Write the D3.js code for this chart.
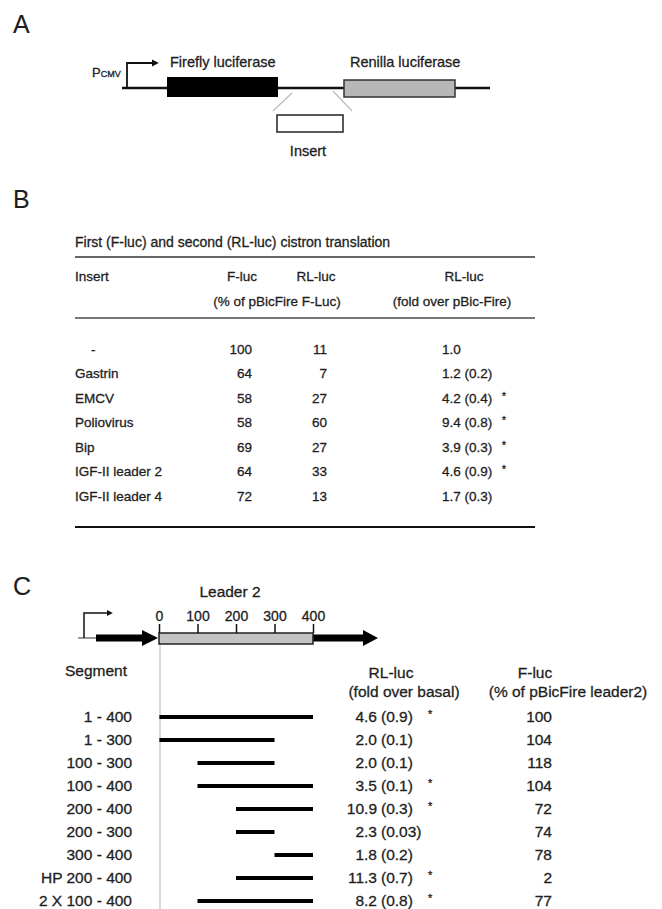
<!DOCTYPE html>
<html lang="en">
<head>
  <script src="https://d3js.org/d3.v7.min.js"></script>
  <style>
    body { margin: 0; background: #fff; }
    text { font-family: "Liberation Sans", Arial, sans-serif; fill: #1e1e1e; stroke: #1e1e1e; stroke-width: 0.3px; }
  </style>
</head>
<body>
<script>
  // panel B table
  var inserts = ["-", "Gastrin", "EMCV", "Poliovirus", "Bip", "IGF-II leader 2", "IGF-II leader 4"];
  var flucPct = [100, 64, 58, 58, 69, 64, 72];
  var rlucPct = [11, 7, 27, 60, 27, 33, 13];
  var rlFold = ["1.0", "1.2", "4.2", "9.4", "3.9", "4.6", "1.7"];
  var rlFoldSD = ["", "0.2", "0.4", "0.8", "0.3", "0.9", "0.3"];
  var rlSig = [0, 0, 1, 1, 1, 1, 0];

  // panel C deletion map
  var segments = ["1 - 400", "1 - 300", "100 - 300", "100 - 400", "200 - 400", "200 - 300", "300 - 400", "HP 200 - 400", "2 X 100 - 400"];
  var segStart = [1, 1, 100, 100, 200, 200, 300, 200, 100];
  var segEnd = [400, 300, 300, 400, 400, 300, 400, 400, 400];
  var foldBasal = ["4.6", "2.0", "2.0", "3.5", "10.9", "2.3", "1.8", "11.3", "8.2"];
  var foldSD = ["0.9", "0.1", "0.1", "0.1", "0.3", "0.03", "0.2", "0.7", "0.8"];
  var foldSig = [1, 0, 0, 1, 1, 0, 0, 1, 1];
  var flucLeader = [100, 104, 118, 104, 72, 74, 78, 2, 77];
  var leaderTicks = [0, 100, 200, 300, 400];

  var width = 662, height = 909;

  var svg = d3.select("body").append("svg")
    .attr("width", width)
    .attr("height", height);

  var defs = svg.append("defs");
  defs.append("marker")
    .attr("id", "head")
    .attr("viewBox", "0 0 10 10")
    .attr("refX", 2).attr("refY", 5)
    .attr("markerWidth", 4).attr("markerHeight", 4)
    .attr("orient", "auto")
    .append("path").attr("d", "M0,0 L10,5 L0,10 z").attr("fill", "#111");

  // panel letters
  svg.selectAll("text.panel")
    .data([["A", 33], ["B", 208], ["C", 595]])
    .enter().append("text")
    .attr("class", "panel")
    .attr("x", 13).attr("y", function(d) { return d[1]; })
    .attr("font-size", "25px")
    .style("stroke-width", "0.1px")
    .text(function(d) { return d[0]; });

  // ---------- A ----------
  var a = svg.append("g");
  a.append("line").attr("x1", 122).attr("x2", 490).attr("y1", 88).attr("y2", 88)
    .attr("stroke", "#111").attr("stroke-width", 2.5);
  a.append("path").attr("d", "M127,88 V63 H153")
    .attr("fill", "none").attr("stroke", "#111").attr("stroke-width", 1.8)
    .attr("marker-end", "url(#head)");
  a.append("text").attr("x", 92).attr("y", 77).attr("font-size", "13px")
    .html('P<tspan font-size="9px">CMV</tspan>');
  a.append("rect").attr("x", 167).attr("y", 77).attr("width", 111).attr("height", 20)
    .attr("fill", "#000");
  a.append("rect").attr("x", 344).attr("y", 80).attr("width", 111).attr("height", 17)
    .attr("fill", "#b7b7b7").attr("stroke", "#333").attr("stroke-width", 1.5);
  a.append("line").attr("x1", 292).attr("y1", 93).attr("x2", 273).attr("y2", 111)
    .attr("stroke", "#bbb").attr("stroke-width", 1.2);
  a.append("line").attr("x1", 333).attr("y1", 91).attr("x2", 352).attr("y2", 111)
    .attr("stroke", "#bbb").attr("stroke-width", 1.2);
  a.append("rect").attr("x", 277).attr("y", 115).attr("width", 66).attr("height", 17)
    .attr("fill", "#fff").attr("stroke", "#222").attr("stroke-width", 1.5);
  a.append("text").attr("x", 170).attr("y", 67).attr("font-size", "14.5px").text("Firefly luciferase");
  a.append("text").attr("x", 350).attr("y", 67).attr("font-size", "14.5px").text("Renilla luciferase");
  a.append("text").attr("x", 308).attr("y", 156).attr("font-size", "14.5px")
    .attr("text-anchor", "middle").text("Insert");

  // ---------- B ----------
  var b = svg.append("g").attr("font-size", "13.5px");
  var yB = d3.scalePoint().domain(inserts).range([349, 496]);

  b.append("text").attr("x", 75).attr("y", 247).attr("font-size", "14px")
    .text("First (F-luc) and second (RL-luc) cistron translation");
  b.append("line").attr("x1", 75).attr("x2", 535).attr("y1", 257).attr("y2", 257)
    .attr("stroke", "#333").attr("stroke-width", 1.5);
  b.append("line").attr("x1", 75).attr("x2", 535).attr("y1", 318).attr("y2", 318)
    .attr("stroke", "#777").attr("stroke-width", 2);
  b.append("line").attr("x1", 75).attr("x2", 535).attr("y1", 527).attr("y2", 527)
    .attr("stroke", "#111").attr("stroke-width", 2);

  var hdr = [
    ["Insert", 75, 281, "start"],
    ["F-luc", 242, 281, "middle"],
    ["RL-luc", 316, 281, "middle"],
    ["(% of pBicFire F-Luc)", 277, 306, "middle"],
    ["RL-luc", 464, 281, "middle"],
    ["(fold over pBic-Fire)", 452, 306, "middle"]
  ];
  b.selectAll("text.hdr").data(hdr).enter().append("text")
    .attr("class", "hdr")
    .attr("x", function(d) { return d[1]; })
    .attr("y", function(d) { return d[2]; })
    .attr("text-anchor", function(d) { return d[3]; })
    .text(function(d) { return d[0]; });

  var rowsB = b.selectAll("g.row").data(inserts).enter().append("g")
    .attr("class", "row")
    .attr("transform", function(d) { return "translate(0," + yB(d) + ")"; });

  rowsB.append("text")
    .attr("x", function(d) { return d === "-" ? 91 : 75; })
    .attr("dy", "0.35em")
    .text(function(d) { return d; });
  rowsB.append("text")
    .attr("x", 252).attr("dy", "0.35em").attr("text-anchor", "end")
    .text(function(d, i) { return flucPct[i]; });
  rowsB.append("text")
    .attr("x", 327).attr("dy", "0.35em").attr("text-anchor", "end")
    .text(function(d, i) { return rlucPct[i]; });
  rowsB.append("text")
    .attr("x", 442).attr("dy", "0.35em")
    .text(function(d, i) { return rlFold[i] + (rlFoldSD[i] ? " (" + rlFoldSD[i] + ")" : ""); });
  rowsB.filter(function(d, i) { return rlSig[i]; }).append("text")
    .attr("x", 502).attr("dy", "0.15em").attr("font-size", "10px")
    .text("*");

  // ---------- C ----------
  var c = svg.append("g").attr("font-size", "15.5px");
  var xC = d3.scaleLinear().domain([0, 400]).range([159, 313]);
  var yC = d3.scalePoint().domain(segments).range([717, 901]);

  c.append("text").attr("x", 230).attr("y", 597).attr("text-anchor", "middle")
    .text("Leader 2");

  // promoter and flanking arrows
  c.append("line").attr("x1", 78).attr("x2", 96).attr("y1", 638).attr("y2", 638)
    .attr("stroke", "#777").attr("stroke-width", 1.5);
  c.append("path").attr("d", "M84,638 V613 H108")
    .attr("fill", "none").attr("stroke", "#111").attr("stroke-width", 1.5)
    .attr("marker-end", "url(#head)");
  function fatArrow(x0, x1, tip, yc) {
    return "M" + x0 + "," + (yc - 3.5) + " H" + x1 + " V" + (yc - 8) + " L" + tip + "," + yc +
      " L" + x1 + "," + (yc + 8) + " V" + (yc + 3.5) + " H" + x0 + " Z";
  }
  c.append("path").attr("d", fatArrow(96, 142, 158, 638)).attr("fill", "#000");
  c.append("path").attr("d", fatArrow(xC(400), 363, 378, 638)).attr("fill", "#000");

  c.append("line").attr("x1", xC(0) + 1).attr("x2", xC(0) + 1).attr("y1", 644).attr("y2", height)
    .attr("stroke", "#ccc").attr("stroke-width", 1.5);

  c.append("rect").attr("x", xC(0)).attr("y", 633).attr("width", xC(400) - xC(0)).attr("height", 11)
    .attr("fill", "#c4c4c4").attr("stroke", "#222").attr("stroke-width", 1.5);

  var axis = c.append("g").attr("transform", "translate(0,633)")
    .call(d3.axisTop(xC).tickValues(leaderTicks).tickSize(9).tickPadding(3));
  axis.select(".domain").remove();
  axis.selectAll(".tick line").attr("stroke", "#111").attr("stroke-width", 1.5);
  axis.selectAll(".tick text").attr("font-size", "14px");

  c.append("text").attr("x", 65).attr("y", 676).text("Segment");
  c.append("text").attr("x", 391).attr("y", 678).attr("text-anchor", "middle").text("RL-luc");
  c.append("text").attr("x", 404).attr("y", 697).attr("text-anchor", "middle").text("(fold over basal)");
  c.append("text").attr("x", 535).attr("y", 678).attr("text-anchor", "middle").text("F-luc");
  c.append("text").attr("x", 568).attr("y", 697).attr("text-anchor", "middle").text("(% of pBicFire leader2)");

  var rowsC = c.selectAll("g.seg").data(segments).enter().append("g")
    .attr("class", "seg")
    .attr("transform", function(d) { return "translate(0," + yC(d) + ")"; });

  rowsC.append("text").attr("x", 132).attr("dy", "0.35em").attr("text-anchor", "end")
    .text(function(d) { return d; });
  rowsC.append("line")
    .attr("x1", function(d, i) { return xC(segStart[i]); })
    .attr("x2", function(d, i) { return xC(segEnd[i]); })
    .attr("stroke", "#000").attr("stroke-width", 4);
  rowsC.append("text").attr("x", 377).attr("dy", "0.35em").attr("text-anchor", "end")
    .text(function(d, i) { return foldBasal[i]; });
  rowsC.append("text").attr("x", 381).attr("dy", "0.35em")
    .text(function(d, i) { return "(" + foldSD[i] + ")"; });
  rowsC.filter(function(d, i) { return foldSig[i]; }).append("text")
    .attr("x", 428).attr("dy", "0.1em").attr("font-size", "11px")
    .text("*");
  rowsC.append("text").attr("x", 552).attr("dy", "0.35em").attr("text-anchor", "end")
    .text(function(d, i) { return flucLeader[i]; });
</script>
</body>
</html>
